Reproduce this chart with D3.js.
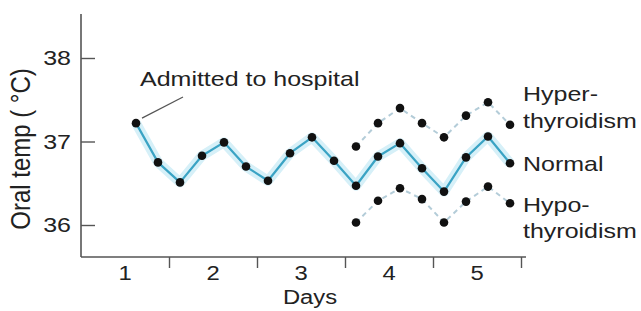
<!DOCTYPE html>
<html>
<head>
<meta charset="utf-8">
<script src="https://cdn.jsdelivr.net/npm/d3@7"></script>
<style>
  body { margin: 0; background: #fff; }
  text { font-family: "Liberation Sans", Arial, Helvetica, sans-serif; fill: #222; }
</style>
</head>
<body>
<div class="chart"></div>
<script>
// days since admission (4 readings a day)
var normalTimes = [0.625, 0.875, 1.125, 1.375, 1.625, 1.875, 2.125, 2.375, 2.625,
                   2.875, 3.125, 3.375, 3.625, 3.875, 4.125, 4.375, 4.625, 4.875];
var normalTemps = [37.22, 36.75, 36.51, 36.83, 36.99, 36.70, 36.53, 36.86, 37.05,
                   36.77, 36.47, 36.82, 36.98, 36.68, 36.40, 36.81, 37.06, 36.74];

var thyroidTimes = [3.125, 3.375, 3.625, 3.875, 4.125, 4.375, 4.625, 4.875];
var hyperTemps = [36.94, 37.22, 37.40, 37.22, 37.05, 37.31, 37.47, 37.20];
var hypoTemps  = [36.03, 36.29, 36.44, 36.31, 36.03, 36.28, 36.46, 36.26];

var yTicks = [36, 37, 38];
var dayTicks = [1, 2, 3, 4, 5];
var dayLabels = ["1", "2", "3", "4", "5"];

var svgWidth = 641;
var svgHeight = 311;
var stretch = 1.19; // text in the picture is drawn a bit wide

var svg = d3.select(".chart")
  .append("svg")
  .attr("width", svgWidth)
  .attr("height", svgHeight);

// scales
var xScale = d3.scaleLinear().domain([0, 5]).range([81, 521]);
var yScale = d3.scaleLinear().domain([36, 38]).range([225, 58]);
var axisTop = 14, axisBottom = 257;

function label(x, y, txt, anchor, size) {
  return svg.append("text")
    .attr("transform", `translate(${x},${y}) scale(${stretch},1)`)
    .attr("text-anchor", anchor || "start")
    .style("font-size", (size || 21) + "px")
    .text(txt);
}

// axis lines
svg.append("line")
  .attr("x1", xScale(0)).attr("x2", xScale(0))
  .attr("y1", axisTop).attr("y2", axisBottom)
  .attr("stroke", "#555").attr("stroke-width", 1.6);
svg.append("line")
  .attr("x1", xScale(0)).attr("x2", xScale(5) + 5)
  .attr("y1", axisBottom).attr("y2", axisBottom)
  .attr("stroke", "#555").attr("stroke-width", 1.6);

// y axis, ticks point inward
var yAxis = d3.axisLeft(yScale)
  .tickValues(yTicks)
  .tickSizeInner(-14)
  .tickSizeOuter(0)
  .tickPadding(10)
  .tickFormat(d3.format("d"));

var yG = svg.append("g")
  .attr("transform", `translate(${xScale(0)},0)`)
  .call(yAxis);
yG.select(".domain").remove();
yG.selectAll("line").attr("stroke", "#555").attr("stroke-width", 1.4);
yG.selectAll("text")
  .attr("x", 0)
  .attr("transform", `translate(-10,0) scale(${stretch},1)`)
  .attr("fill", "#222")
  .style("font-size", "21px")
  .style("font-family", "Liberation Sans, Arial, sans-serif");

// x axis: day boundary ticks, labels in the middle of each day
var xTickAxis = d3.axisBottom(xScale)
  .tickValues(dayTicks)
  .tickSize(11)
  .tickFormat("");
var xG = svg.append("g")
  .attr("transform", `translate(0,${axisBottom})`)
  .call(xTickAxis);
xG.select(".domain").remove();
xG.selectAll("line").attr("stroke", "#555").attr("stroke-width", 1.4);

dayTicks.forEach(function(d, i) {
  label(xScale(d - 0.5), 280, dayLabels[i], "middle", 20);
});

// axis titles
label(310, 304, "Days", "middle", 20);
svg.append("text")
  .attr("transform", `translate(30,149) rotate(-90) scale(1,${stretch})`)
  .attr("text-anchor", "middle")
  .style("font-size", "24px")
  .text("Oral temp ( \u00B0C)");

// lines
var normalData = normalTimes.map((t, i) => ({ t: t, v: normalTemps[i] }));
var hyperData = thyroidTimes.map((t, i) => ({ t: t, v: hyperTemps[i] }));
var hypoData = thyroidTimes.map((t, i) => ({ t: t, v: hypoTemps[i] }));

var line = d3.line()
  .x(d => xScale(d.t))
  .y(d => yScale(d.v));

// soft glow under the normal curve
svg.append("path")
  .datum(normalData)
  .attr("d", line)
  .attr("fill", "none")
  .attr("stroke", "#d6f0f8")
  .attr("stroke-width", 10)
  .attr("stroke-linejoin", "round");

[hyperData, hypoData].forEach(function(data) {
  svg.append("path")
    .datum(data)
    .attr("d", line)
    .attr("fill", "none")
    .attr("stroke", "#b3ccd8")
    .attr("stroke-width", 2)
    .attr("stroke-dasharray", "5,4");
});

svg.append("path")
  .datum(normalData)
  .attr("d", line)
  .attr("fill", "none")
  .attr("stroke", "#3aa3c4")
  .attr("stroke-width", 2.2)
  .attr("stroke-linejoin", "round");

// markers
[normalData, hyperData, hypoData].forEach(function(data) {
  svg.append("g").selectAll("circle")
    .data(data)
    .enter()
    .append("circle")
    .attr("cx", d => xScale(d.t))
    .attr("cy", d => yScale(d.v))
    .attr("r", 4.3)
    .style("fill", "#111");
});

// annotation
var first = normalData[0];
svg.append("line")
  .attr("x1", xScale(first.t) + 6).attr("y1", yScale(first.v) - 5)
  .attr("x2", 183).attr("y2", 97)
  .attr("stroke", "#555").attr("stroke-width", 1.2);
label(140, 86, "Admitted to hospital");

// series labels on the right
label(523, 101, "Hyper-");
label(523, 128, "thyroidism");
label(523, 171, "Normal");
label(523, 212, "Hypo-");
label(523, 238, "thyroidism");
</script>
</body>
</html>
